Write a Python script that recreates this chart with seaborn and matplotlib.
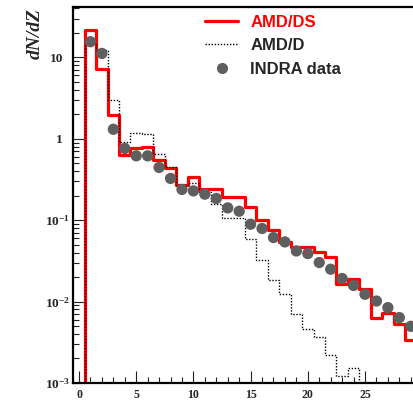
import numpy as np
import pandas as pd
import matplotlib
matplotlib.use("Agg")
import matplotlib.pyplot as plt
from matplotlib.lines import Line2D
from matplotlib.ticker import FixedLocator, FixedFormatter, LogLocator, NullFormatter, MultipleLocator
import seaborn as sns

# ---------------- data ----------------
Z = list(range(0, 30))
amd_ds = [0, 21.7, 7.14, 1.96, 0.63, 0.762, 0.798, 0.547, 0.432, 0.27,
          0.341, 0.245, 0.245, 0.194, 0.194, 0.146, 0.100, 0.0753, 0.0541, 0.047,
          0.047, 0.0408, 0.0354, 0.0166, 0.0187, 0.0141, 0.00636, 0.00724, 0.00536, 0.00334]
Z_d = list(range(0, 26))
amd_d = [0, 15.0, 12.3, 2.99, 0.92, 1.19, 1.14, 0.66, 0.453, 0.27,
         0.283, 0.223, 0.160, 0.105, 0.105, 0.0596, 0.0322, 0.0183, 0.01253, 0.00711,
         0.00465, 0.00367, 0.00219, 0.00121, 0.00154, 0]
Z_i = list(range(1, 30))
indra = [15.6, 11.2, 1.31, 0.762, 0.618, 0.618, 0.445, 0.326, 0.239, 0.229,
         0.209, 0.185, 0.1417, 0.129, 0.0893, 0.0791, 0.0612, 0.0541, 0.0419, 0.0389,
         0.0302, 0.0250, 0.0192, 0.0158, 0.0123, 0.01016, 0.00843, 0.00636, 0.00497]

labels = ["AMD/DS", "AMD/D", "INDRA data"]
xticks = [0, 5, 10, 15, 20, 25]
yticks = [1e-3, 1e-2, 1e-1, 1, 10]
yticklabels = [r"$10^{-3}$", r"$10^{-2}$", r"$10^{-1}$", "1", "10"]

df_ds = pd.DataFrame({"Z": Z, "w": amd_ds})
df_d = pd.DataFrame({"Z": Z_d, "w": amd_d})
df_i = pd.DataFrame({"Z": Z_i, "v": indra})

# ---------------- style ----------------
sns.set_style("ticks")
plt.rcParams["font.family"] = ["Liberation Serif", "DejaVu Serif"]
plt.rcParams["mathtext.fontset"] = "custom"
plt.rcParams["mathtext.rm"] = "Liberation Serif:bold"
plt.rcParams["mathtext.it"] = "Liberation Serif:bold:italic"
plt.rcParams["mathtext.bf"] = "Liberation Serif:bold"

fig = plt.figure(figsize=(4.14, 4.12), dpi=100)
ax = fig.add_axes([73.3 / 414, 29 / 412, 348.9 / 414, 376.3 / 412])

RED = "#ff0000"
GREY = "#5f5f5f"

sns.histplot(data=df_ds, x="Z", weights="w", discrete=True, element="step",
             fill=False, color=RED, linewidth=2.3, ax=ax, zorder=3)
sns.histplot(data=df_d, x="Z", weights="w", discrete=True, element="step",
             fill=False, color="black", linewidth=1.0, linestyle=(0, (1, 1.2)),
             ax=ax, zorder=4)
sns.scatterplot(data=df_i, x="Z", y="v", color=GREY, s=66, edgecolor="none",
                ax=ax, zorder=5)

ax.set_yscale("log")
ax.set_xlim(-0.5, 30)
ax.set_ylim(1e-3, 42)
ax.set_xlabel("")
ax.set_ylabel("")

# spines
for s in ["left", "bottom", "top"]:
    ax.spines[s].set_linewidth(1.6)
    ax.spines[s].set_color("black")
    ax.spines[s].set_zorder(10)
ax.spines["right"].set_visible(False)

# ticks
ax.xaxis.set_major_locator(FixedLocator(xticks))
ax.xaxis.set_minor_locator(MultipleLocator(1))
ax.yaxis.set_major_locator(FixedLocator(yticks))
ax.yaxis.set_major_formatter(FixedFormatter(yticklabels))
ax.yaxis.set_minor_locator(LogLocator(base=10, subs=np.arange(2, 10)))
ax.yaxis.set_minor_formatter(NullFormatter())
ax.tick_params(axis="both", which="major", direction="in", length=8.6, width=0.8,
               color="#222222", top=False, right=False)
ax.tick_params(axis="both", which="minor", direction="in", length=4.3, width=0.8,
               color="#222222", top=False, right=False)
ax.tick_params(axis="x", which="major", pad=4.5, labelsize=8.6)
ax.tick_params(axis="y", which="major", pad=2.5, labelsize=9.6)
for lab in ax.get_xticklabels() + ax.get_yticklabels():
    lab.set_fontweight("bold")
    lab.set_family(["Liberation Serif"])
ymaj = ax.yaxis.get_major_ticks()
ymaj[3].set_pad(7.5)
ymaj[4].set_pad(7.5)

# y-axis title
fig.text(35 / 414, 1 - 8 / 412, "dN/dZ", rotation=90, ha="center", va="top",
         fontsize=14, fontweight="bold", fontstyle="italic",
         family=["Liberation Serif"])

# legend
handles = [
    Line2D([], [], color=RED, lw=2.3),
    Line2D([], [], color="black", lw=1.0, ls=(0, (1, 1.2))),
    Line2D([], [], color=GREY, marker="o", ls="none", markersize=8,
           markeredgecolor="none"),
]
leg = ax.legend(handles, labels, loc="upper left",
                bbox_to_anchor=(205 / 414, 1 - 15 / 412),
                bbox_transform=fig.transFigure, frameon=False,
                borderaxespad=0, borderpad=0, handlelength=2.0,
                handletextpad=0.72, labelspacing=0.5,
                prop={"family": ["Liberation Sans"], "weight": "bold", "size": 12})
leg.get_texts()[0].set_color(RED)

fig.savefig("out.png", dpi=100)
